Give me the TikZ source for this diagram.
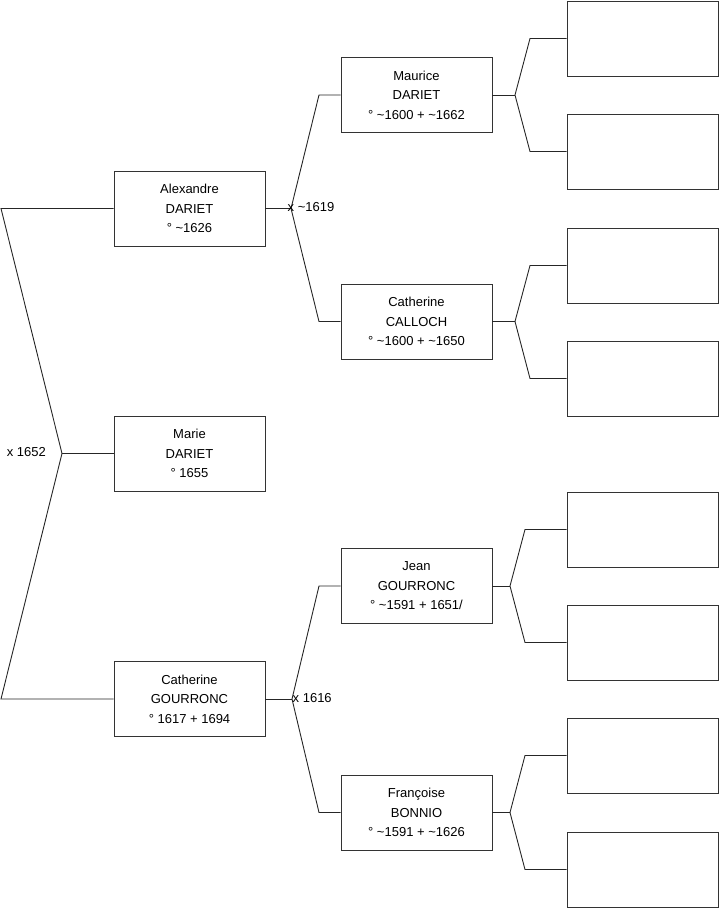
\documentclass[tikz,border=0pt]{standalone}
\usepackage{fontspec}
\setmainfont{Liberation Sans}
\begin{document}
\begin{tikzpicture}[x=1pt,y=-1pt,
  person/.style={draw=black!80, line width=0.9pt, rectangle, minimum width=151pt, minimum height=75pt, inner sep=0pt, align=center, font=\fontsize{13}{19.5}\selectfont},
  link/.style={draw=black!85, line width=0.9pt},
  lbl/.style={font=\fontsize{13}{15}\selectfont, inner sep=0pt}]
\useasboundingbox (0,0) rectangle (719,908);
% generation 1
\node[person] (marie) at (189.5,453.5) {Marie\\DARIET\\° 1655};
% generation 2
\node[person] (alex) at (189.5,208.5) {Alexandre\\DARIET\\° \textasciitilde1626};
\node[person] (catg) at (189.5,699) {Catherine\\GOURRONC\\° 1617 + 1694};
% generation 3
\node[person] (maur) at (416.5,95) {Maurice\\DARIET\\° \textasciitilde1600 + \textasciitilde1662};
\node[person] (catc) at (416.5,321.5) {Catherine\\CALLOCH\\° \textasciitilde1600 + \textasciitilde1650};
\node[person] (jean) at (416.5,586) {Jean\\GOURRONC\\° \textasciitilde1591 + 1651/};
\node[person] (fran) at (416.5,812.5) {Françoise\\BONNIO\\° \textasciitilde1591 + \textasciitilde1626};
% generation 4
\node[person] (e1) at (642.5,38.5) {};
\node[person] (e2) at (642.5,151.5) {};
\node[person] (e3) at (642.5,265.5) {};
\node[person] (e4) at (642.5,378.5) {};
\node[person] (e5) at (642.5,529.5) {};
\node[person] (e6) at (642.5,642.5) {};
\node[person] (e7) at (642.5,755.5) {};
\node[person] (e8) at (642.5,869.5) {};
% junction coordinates
\coordinate (j0) at (62,453.5);
\coordinate (j0a) at (1,208.5);
\coordinate (j0b) at (1,699);
\coordinate (j1) at (291,208.5);
\coordinate (j1a) at (319,95);
\coordinate (j1b) at (319,321.5);
\coordinate (j2) at (292,699);
\coordinate (j2a) at (319,586);
\coordinate (j2b) at (319,812.5);
\coordinate (j3) at (515,95);
\coordinate (j3a) at (530,38.5);
\coordinate (j3b) at (530,151.5);
\coordinate (j4) at (515,321.5);
\coordinate (j4a) at (530,265.5);
\coordinate (j4b) at (530,378.5);
\coordinate (j5) at (510,586);
\coordinate (j5a) at (525,529.5);
\coordinate (j5b) at (525,642.5);
\coordinate (j6) at (510,812.5);
\coordinate (j6a) at (525,755.5);
\coordinate (j6b) at (525,869.5);
% connectors
\draw[link] (alex.west) -- (j0a) -- (j0) -- (j0b) -- (catg.west);
\draw[link] (j0) -- (marie.west);
\draw[link] (alex.east) -- (j1);
\draw[link] (maur.west) -- (j1a) -- (j1) -- (j1b) -- (catc.west);
\draw[link] (catg.east) -- (j2);
\draw[link] (jean.west) -- (j2a) -- (j2) -- (j2b) -- (fran.west);
\draw[link] (maur.east) -- (j3);
\draw[link] (e1.west) -- (j3a) -- (j3) -- (j3b) -- (e2.west);
\draw[link] (catc.east) -- (j4);
\draw[link] (e3.west) -- (j4a) -- (j4) -- (j4b) -- (e4.west);
\draw[link] (jean.east) -- (j5);
\draw[link] (e5.west) -- (j5a) -- (j5) -- (j5b) -- (e6.west);
\draw[link] (fran.east) -- (j6);
\draw[link] (e7.west) -- (j6a) -- (j6) -- (j6b) -- (e8.west);
% marriage labels
\node[lbl, anchor=east] (m0) at (46,452) {x 1652};
\node[lbl, anchor=west] (m1) at (287.5,207.5) {x \textasciitilde1619};
\node[lbl, anchor=west] (m2) at (292.5,698) {x 1616};
\end{tikzpicture}
\end{document}
